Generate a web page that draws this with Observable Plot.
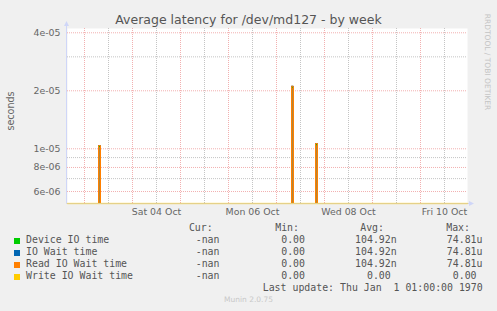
<!DOCTYPE html>
<html><head><meta charset="utf-8">
<script src="https://cdn.jsdelivr.net/npm/d3@7"></script>
<script src="https://cdn.jsdelivr.net/npm/@observablehq/plot@0.6"></script>
<style>
html,body{margin:0;padding:0;background:#f0f0f0;width:497px;height:311px;overflow:hidden;}
#root{position:relative;width:497px;height:311px;font-family:"DejaVu Sans",sans-serif;color:#666;}
.abs{position:absolute;white-space:pre;}
.mono{font-family:"DejaVu Sans Mono",monospace;font-size:9.9px;line-height:12px;color:#555;}
#chart{position:absolute;left:0;top:0;}
</style></head><body><div id="root"><div id="chart"></div></div>
<script>
// ---- data ----
const seriesNames = ["Device IO time", "IO Wait time", "Read IO Wait time", "Write IO Wait time"];
const seriesColors = ["#00cc00", "#0066b3", "#ff8000", "#ffcc00"];
const sampleTimes = ["2025-10-02T15:30Z", "2025-10-03T07:00Z", "2025-10-03T08:00Z", "2025-10-07T07:30Z",
                     "2025-10-07T08:30Z", "2025-10-07T19:30Z", "2025-10-07T20:30Z", "2025-10-10T23:30Z"];
const deviceIO    = [0, 1.03e-5, 0, 2.09e-5, 0, 1.05e-5, 0, 0];
const ioWait      = [0, 1.04e-5, 0, 2.11e-5, 0, 1.065e-5, 0, 0];
const readIOWait  = [0, 1.04e-5, 0, 2.11e-5, 0, 1.065e-5, 0, 0];
const writeIOWait = [0, 0, 0, 0, 0, 0, 0, 0];
const curValues = ["-nan", "-nan", "-nan", "-nan"];
const minValues = ["0.00", "0.00", "0.00", "0.00"];
const avgValues = ["104.92n", "104.92n", "104.92n", "0.00 "];
const maxValues = ["74.81u", "74.81u", "74.81u", "0.00 "];
const legendHeaders = ["Cur:", "Min:", "Avg:", "Max:"];
const yTicks = [4e-5, 2e-5, 1e-5, 8e-6, 6e-6];
const yTickLabels = ["4e-05", "2e-05", "1e-05", "8e-06", "6e-06"];
const yMinorTicks = [3e-5, 9e-6, 7e-6];
const yDomain = [5.2e-6, 4.21e-5];
const xDomain = ["2025-10-02T15:30Z", "2025-10-10T23:30Z"];
const xLabelTicks = ["2025-10-04T12:00Z", "2025-10-06T12:00Z", "2025-10-08T12:00Z", "2025-10-10T12:00Z"];
const xMajorGrid = ["2025-10-03", "2025-10-04", "2025-10-05", "2025-10-06", "2025-10-07", "2025-10-08", "2025-10-09", "2025-10-10"];
const xMinorGrid = ["2025-10-03T12:00Z", "2025-10-04T12:00Z", "2025-10-05T12:00Z", "2025-10-06T12:00Z",
                    "2025-10-07T12:00Z", "2025-10-08T12:00Z", "2025-10-09T12:00Z", "2025-10-10T12:00Z"];
const titleText = "Average latency for /dev/md127 - by week";
const yLabelText = "seconds";
const lastUpdateText = "Last update: Thu Jan  1 01:00:00 1970";
const watermarkText = "Munin 2.0.75";
const sideText = "RRDTOOL / TOBI OETIKER";

// ---- build ----
const seriesValues = [deviceIO, ioWait, readIOWait, writeIOWait];
const rows = seriesNames.map((name, s) => sampleTimes.map((t, i) => ({series: name, t: new Date(t), v: seriesValues[s][i]})));
const D = a => a.map(d => new Date(d));

const gridMajor = "#f2b0b0", gridMinor = "#c4c4c4", axisCol = "#cfd6f8";
const dims = {width: 497, height: 220, marginLeft: 67, marginRight: 30, marginTop: 28, marginBottom: 17};

const chart = Plot.plot({
  ...dims,
  style: {background: "transparent", fontFamily: "DejaVu Sans", fontSize: "9.4px", color: "#666"},
  x: {type: "utc", domain: D(xDomain), ticks: D(xLabelTicks), tickFormat: d3.utcFormat("%a %d %b"),
      tickSize: 0, tickPadding: 5, label: null},
  y: {type: "log", domain: yDomain, clamp: true, ticks: yTicks,
      tickFormat: d => yTickLabels[yTicks.indexOf(d)], tickSize: 0, tickPadding: 7, label: null},
  marks: [
    Plot.frame({fill: "white", stroke: null}),
    Plot.ruleY(yMinorTicks, {stroke: gridMinor, strokeDasharray: "1,1"}),
    Plot.ruleX(D(xMinorGrid), {stroke: gridMinor, strokeDasharray: "1,1"}),
    Plot.ruleY(yTicks, {stroke: gridMajor, strokeDasharray: "1,1"}),
    Plot.ruleX(D(xMajorGrid), {stroke: gridMajor, strokeDasharray: "1,1"}),
    Plot.areaY(rows[2], {x: "t", y: "v", curve: "step-after", fill: "#b0863a"}),
    ...rows.slice(0, 3).map((r, s) => Plot.line(r, {x: "t", y: "v", curve: "step-after", stroke: seriesColors[s], strokeWidth: 1})),
  ]
});
document.getElementById("chart").appendChild(chart);

// axis lines + arrows (from the scales' ranges)
const [xr0, xr1] = chart.scale("x").range;
const [yr0, yr1] = chart.scale("y").range;
const g = d3.select(chart).append("g");
g.append("line").attr("x1", xr0 - 0.5).attr("x2", xr0 - 0.5).attr("y1", yr0 + 0.5).attr("y2", yr1 - 5).attr("stroke", axisCol);
g.append("line").attr("x1", xr0 - 0.5).attr("x2", xr1 + 3).attr("y1", yr0 + 0.5).attr("y2", yr0 + 0.5).attr("stroke", axisCol);
g.append("path").attr("d", `M${xr0 - 3},${yr1 - 2}L${xr0 + 2},${yr1 - 2}L${xr0 - 0.5},${yr1 - 7}Z`).attr("fill", axisCol);
g.append("path").attr("d", `M${xr1 + 2},${yr0 - 2}L${xr1 + 2},${yr0 + 3}L${xr1 + 7},${yr0 + 0.5}Z`).attr("fill", axisCol);
// write IO wait time line (all at the bottom) drawn on top of the axis
d3.select(chart).append(() => Plot.line(rows[3], {x: "t", y: "v", curve: "step-after", stroke: seriesColors[3], strokeOpacity: 0.45})
  .plot({...dims, x: {type: "utc", domain: D(xDomain), axis: null}, y: {type: "log", domain: yDomain, clamp: true, axis: null},
         style: {background: "transparent", overflow: "visible"}}));

// ---- text ----
const root = document.getElementById("root");
function add(text, css, cls) {
  const el = document.createElement("div");
  el.className = "abs " + (cls || "");
  el.textContent = text;
  Object.assign(el.style, css);
  root.appendChild(el);
  return el;
}
add(titleText, {left: "0px", width: "497px", top: "11.5px", textAlign: "center", fontSize: "12.5px", lineHeight: "15px", color: "#555"});
add(yLabelText, {left: "10.7px", top: "111.3px", fontSize: "9.6px", lineHeight: "12px", color: "#666",
  transform: "translate(-50%,-50%) rotate(-90deg)"});
add(sideText, {left: "487.3px", top: "62.3px", fontSize: "7.5px", lineHeight: "9px", color: "#c4c4c4",
  transform: "translate(-50%,-50%) rotate(90deg)"});

const headerRight = [212.7, 299, 384, 470];
const valueRight = [219.5, 305, 396.7, 482.5];
const rowTops = [234.0, 246.2, 258.1, 270.1];
legendHeaders.forEach((h, j) => add(h, {right: (497 - headerRight[j]) + "px", top: "221.6px", textAlign: "right"}, "mono"));
seriesNames.forEach((name, i) => {
  const sq = document.createElement("div");
  Object.assign(sq.style, {position: "absolute", left: "14px", top: (rowTops[i] + 3.7) + "px", width: "6px", height: "6px", background: seriesColors[i]});
  root.appendChild(sq);
  add(name, {left: "26px", top: rowTops[i] + "px"}, "mono");
  [curValues[i], minValues[i], avgValues[i], maxValues[i]].forEach((v, j) =>
    add(v, {right: (497 - valueRight[j]) + "px", top: rowTops[i] + "px", textAlign: "right"}, "mono"));
});
add(lastUpdateText, {right: (497 - 482.7) + "px", top: "282.1px", textAlign: "right"}, "mono");
add(watermarkText, {left: "0px", width: "497px", top: "295.4px", textAlign: "center", fontSize: "7.5px", lineHeight: "10px", color: "#c8c8c8"});
</script></body></html>
